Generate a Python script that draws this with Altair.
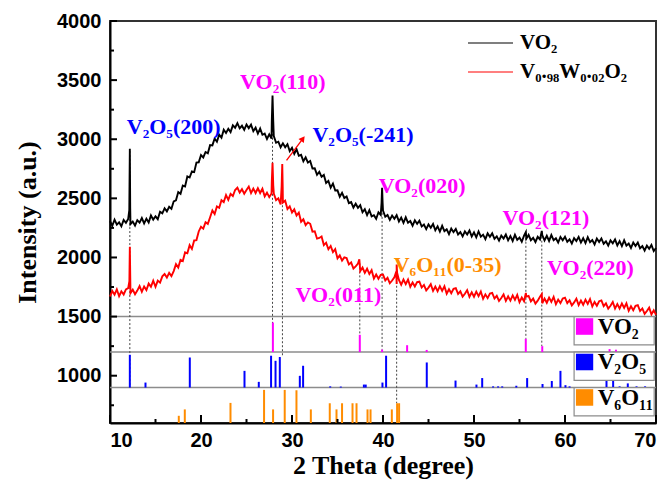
import altair as alt
import pandas as pd

# ---------------- data ----------------
grid_x = [round(10 + 0.25 * i, 2) for i in range(241)]

vo2_y = [
    2308, 2268, 2320, 2278, 2298, 2264, 2317, 2293, 2326, 2282, 2304, 2270,
    2315, 2294, 2333, 2288, 2328, 2296, 2355, 2320, 2348, 2324, 2387, 2373,
    2416, 2390, 2429, 2412, 2475, 2484, 2553, 2538, 2608, 2600, 2685, 2676,
    2728, 2722, 2802, 2805, 2866, 2846, 2892, 2881, 2950, 2948, 3006, 2979,
    3038, 3013, 3080, 3053, 3088, 3060, 3117, 3097, 3136, 3092, 3114, 3080,
    3125, 3094, 3123, 3068, 3098, 3048, 3090, 3038, 3048, 3002, 3042, 3005,
    3026, 2970, 2979, 2932, 2965, 2932, 2958, 2900, 2928, 2876, 2915, 2860,
    2868, 2814, 2847, 2803, 2816, 2752, 2754, 2700, 2725, 2682, 2698, 2630,
    2648, 2590, 2625, 2566, 2568, 2514, 2547, 2503, 2516, 2460, 2469, 2422,
    2455, 2420, 2443, 2382, 2408, 2358, 2400, 2348, 2358, 2327, 2382, 2360,
    2396, 2344, 2359, 2318, 2355, 2327, 2358, 2305, 2338, 2293, 2340, 2293,
    2308, 2268, 2314, 2284, 2311, 2262, 2279, 2240, 2280, 2252, 2283, 2230,
    2263, 2219, 2268, 2222, 2238, 2198, 2244, 2214, 2241, 2194, 2214, 2178,
    2220, 2194, 2228, 2178, 2213, 2170, 2220, 2176, 2193, 2155, 2204, 2175,
    2204, 2158, 2178, 2142, 2185, 2160, 2194, 2145, 2181, 2140, 2192, 2149,
    2168, 2133, 2184, 2159, 2191, 2146, 2166, 2131, 2175, 2153, 2190, 2144,
    2183, 2140, 2190, 2146, 2163, 2126, 2174, 2146, 2176, 2132, 2153, 2118,
    2163, 2139, 2174, 2126, 2163, 2122, 2172, 2129, 2148, 2111, 2160, 2131,
    2161, 2116, 2136, 2101, 2145, 2120, 2153, 2102, 2138, 2096, 2145, 2100,
    2118, 2080, 2127, 2097, 2126, 2078, 2096, 2059, 2100, 2073, 2106, 2054,
    2080,
]

vw_y = [
    1670, 1717, 1685, 1730, 1672, 1714, 1687, 1730, 1740, 1699, 1728, 1689,
    1720, 1758, 1710, 1755, 1725, 1779, 1752, 1803, 1752, 1804, 1787, 1840,
    1860, 1830, 1870, 1843, 1885, 1943, 1915, 1980, 1970, 2043, 2035, 2104,
    2072, 2144, 2147, 2220, 2260, 2244, 2298, 2284, 2340, 2397, 2367, 2431,
    2420, 2484, 2468, 2528, 2487, 2538, 2520, 2571, 2590, 2549, 2578, 2539,
    2570, 2600, 2545, 2583, 2545, 2585, 2545, 2582, 2517, 2548, 2510, 2541,
    2540, 2485, 2500, 2448, 2465, 2480, 2410, 2433, 2380, 2407, 2355, 2380,
    2302, 2323, 2274, 2296, 2285, 2219, 2222, 2159, 2165, 2178, 2105, 2125,
    2070, 2097, 2045, 2070, 1992, 2018, 1974, 2001, 1995, 1941, 1958, 1907,
    1925, 1948, 1885, 1915, 1870, 1905, 1860, 1892, 1822, 1856, 1820, 1853,
    1855, 1806, 1828, 1782, 1805, 1833, 1775, 1810, 1770, 1813, 1775, 1814,
    1752, 1788, 1754, 1791, 1795, 1746, 1768, 1722, 1745, 1774, 1717, 1754,
    1715, 1757, 1718, 1757, 1694, 1731, 1698, 1735, 1740, 1692, 1714, 1669,
    1693, 1724, 1668, 1705, 1668, 1711, 1673, 1712, 1650, 1688, 1656, 1694,
    1700, 1653, 1676, 1632, 1657, 1688, 1633, 1672, 1635, 1679, 1642, 1683,
    1622, 1661, 1630, 1668, 1675, 1629, 1652, 1609, 1635, 1667, 1613, 1653,
    1617, 1661, 1625, 1666, 1605, 1644, 1614, 1653, 1660, 1614, 1638, 1594,
    1620, 1652, 1597, 1636, 1600, 1643, 1607, 1648, 1586, 1624, 1592, 1630,
    1636, 1589, 1612, 1567, 1592, 1623, 1567, 1605, 1568, 1611, 1573, 1612,
    1550, 1587, 1554, 1591, 1596, 1547, 1569, 1523, 1547, 1576, 1519, 1554,
    1515,
]

vo2_peak_x = [12.12, 12.18, 12.22, 27.78, 27.86, 27.94, 39.84, 39.9, 39.96, 55.7, 57.45]
vo2_peak_y = [2400, 2920, 2420, 3150, 3370, 3150, 2460, 2590, 2460, 2215, 2225]
vw_peak_x = [12.13, 12.18, 12.23, 27.78, 27.86, 27.94, 28.86, 28.93, 28.98,
             37.4, 41.46, 41.5, 41.55, 55.7, 57.45]
vw_peak_y = [1800, 2090, 1810, 2640, 2800, 2610, 2600, 2790, 2590,
             1985, 1880, 1940, 1870, 1700, 1690]

series_names = ["VO\u2082", "V\u2080.\u2089\u2088W\u2080.\u2080\u2082O\u2082"]
series_colors = ["#000000", "#FF0000"]

# reference patterns (stick bars): positions and heights above panel base
vo2_ref_x = [27.9, 37.45, 39.9, 42.65, 44.8, 55.69, 57.5, 64.9, 65.6]
vo2_ref_h = [250, 146, 21, 58, 18, 112, 50, 25, 20]
v2o5_ref_x = [12.18, 13.9, 18.77, 24.78, 26.35, 27.7, 28.19, 28.66, 30.86, 31.22,
              34.2, 35.36, 37.9, 38.1, 39.94, 40.34, 44.81, 47.97, 50.27, 50.9,
              52.1, 52.65, 53.1, 54.65, 55.84, 57.53, 58.55, 59.5, 60.05, 60.5,
              64.56, 65.29, 66.0, 66.9, 67.86, 68.8]
v2o5_ref_h = [277, 42, 254, 141, 48, 269, 226, 258, 99, 184,
              10, 8, 25, 25, 42, 269, 212, 59, 25, 80,
              10, 10, 10, 15, 80, 30, 55, 141, 20, 10,
              60, 60, 10, 35, 10, 10]
v6o11_ref_x = [17.56, 18.22, 23.24, 26.93, 27.92, 29.2, 30.49, 32.07, 34.15, 34.89,
               35.5, 36.65, 37.09, 38.3, 38.63, 40.97, 41.55, 41.77]
v6o11_ref_h = [61, 115, 170, 280, 115, 280, 277, 115, 167, 115,
               167, 167, 167, 115, 115, 115, 167, 167]

panel_names = ["VO\u2082", "V\u2082O\u2085", "V\u2086O\u2081\u2081"]
panel_colors = ["#FF00FF", "#0000FF", "#FF8C00"]
panel_tops = [1500, 1200, 900]
panel_bases = [1200, 900, 600]

# dotted guide lines
guide_x = [12.18, 27.86, 28.95, 37.45, 39.9, 41.5, 55.7, 57.45]
guide_top = [2900, 3350, 2780, 1950, 2580, 1930, 2200, 2210]
guide_bottom = [900, 1200, 1160, 1346, 1220, 767, 1312, 1250]

# peak labels
label_text = ["V\u2082O\u2085(200)", "VO\u2082(110)", "V\u2082O\u2085(-241)", "VO\u2082(020)",
              "VO\u2082(121)", "VO\u2082(220)", "V\u2086O\u2081\u2081(0-35)", "VO\u2082(011)"]
label_x = [17.0, 29.0, 37.8, 44.3, 57.9, 62.8, 47.1, 35.1]
label_y = [3100, 3481, 3033, 2602, 2330, 1908, 1940, 1679]
label_color = ["#0000FF", "#FF00FF", "#0000FF", "#FF00FF",
               "#FF00FF", "#FF00FF", "#FF8C00", "#FF00FF"]

arrow_x = [29.4, 31.2]
arrow_y = [2822, 3005]

x_ticks_major = [10, 20, 30, 40, 50, 60, 70]
x_ticks_minor = [15, 25, 35, 45, 55, 65]
y_ticks_major = [1000, 1500, 2000, 2500, 3000, 3500, 4000]
y_ticks_minor = [750, 1250, 1750, 2250, 2750, 3250, 3750]

# ---------------- tables ----------------
rows = []
for name, ys_, px, py in [(series_names[0], vo2_y, vo2_peak_x, vo2_peak_y),
                          (series_names[1], vw_y, vw_peak_x, vw_peak_y)]:
    for x, y in zip(grid_x, ys_):
        rows.append({"x": x, "y": y, "series": name})
    for x, y in zip(px, py):
        rows.append({"x": x, "y": y, "series": name})
curves = pd.DataFrame(rows).sort_values(["series", "x"])

bar_rows = []
for xs_, hs, base, col in [(vo2_ref_x, vo2_ref_h, panel_bases[0], panel_colors[0]),
                           (v2o5_ref_x, v2o5_ref_h, panel_bases[1], panel_colors[1]),
                           (v6o11_ref_x, v6o11_ref_h, panel_bases[2], panel_colors[2])]:
    for x, h in zip(xs_, hs):
        bar_rows.append({"x": x, "y": base, "y2": base + h, "c": col})
bars_df = pd.DataFrame(bar_rows)

guides_df = pd.DataFrame({"x": guide_x, "y": guide_top, "y2": guide_bottom})
labels_df = pd.DataFrame({"t": label_text, "x": label_x, "y": label_y, "c": label_color})
hlines_df = pd.DataFrame({"y": panel_tops})

box_df = pd.DataFrame({
    "x": [61.0] * 3, "x2": [69.8] * 3,
    "y": [t - 240 for t in panel_tops], "y2": panel_tops,
})
sq_df = pd.DataFrame({
    "x": [61.2] * 3, "x2": [63.1] * 3,
    "y": [t - 154 for t in panel_tops], "y2": [t - 14 for t in panel_tops],
    "c": panel_colors,
})
ptext_df = pd.DataFrame({"x": [63.6] * 3, "y": [t - 85 for t in panel_tops], "t": panel_names})

arrow_df = pd.DataFrame({"x": arrow_x, "y": arrow_y})
arrow_head = pd.DataFrame({"x": [arrow_x[1]], "y": [arrow_y[1]]})

xs = alt.Scale(domain=[10, 70], nice=False, zero=False)
ys = alt.Scale(domain=[600, 4000], nice=False, zero=False)
W, H = 546, 402

x_axis = alt.Axis(values=x_ticks_major, tickSize=0, title="2 Theta (degree)", grid=False,
                  labelPadding=7, titlePadding=2, format="d")
y_axis = alt.Axis(values=y_ticks_major, tickSize=0, title="Intensity (a.u.)", grid=False,
                  labelPadding=9, titlePadding=16, format="d")

hlines = alt.Chart(hlines_df).mark_rule(color="#8c8c8c", strokeWidth=1.5).encode(
    y=alt.Y("y:Q", scale=ys, axis=y_axis),
)

guides = alt.Chart(guides_df).mark_rule(color="#444444", strokeWidth=1, strokeDash=[2, 2]).encode(
    x=alt.X("x:Q", scale=xs, axis=x_axis), y=alt.Y("y:Q", scale=ys), y2="y2:Q",
)

bars = alt.Chart(bars_df).mark_rule(strokeWidth=2).encode(
    x=alt.X("x:Q", scale=xs), y=alt.Y("y:Q", scale=ys), y2="y2:Q",
    color=alt.Color("c:N", scale=None),
)

boxes = alt.Chart(box_df).mark_rect(fill="white", stroke="#8c8c8c", strokeWidth=1.2).encode(
    x=alt.X("x:Q", scale=xs), x2="x2:Q", y=alt.Y("y:Q", scale=ys), y2="y2:Q",
)
squares = alt.Chart(sq_df).mark_rect().encode(
    x=alt.X("x:Q", scale=xs), x2="x2:Q", y=alt.Y("y:Q", scale=ys), y2="y2:Q",
    fill=alt.Fill("c:N", scale=None),
)
ptext = alt.Chart(ptext_df).mark_text(
    align="left", baseline="middle", font="Liberation Serif", fontWeight="bold", fontSize=23,
    color="black",
).encode(x=alt.X("x:Q", scale=xs), y=alt.Y("y:Q", scale=ys), text="t:N")

lines = alt.Chart(curves).mark_line(strokeWidth=1.9).encode(
    x=alt.X("x:Q", scale=xs),
    y=alt.Y("y:Q", scale=ys),
    color=alt.Color("series:N",
                    scale=alt.Scale(domain=series_names, range=series_colors),
                    sort=series_names,
                    legend=alt.Legend(title=None, orient="none", legendX=357, legendY=12,
                                      symbolType="stroke", symbolSize=2025,
                                      symbolStrokeWidth=1.2, labelFont="Liberation Serif",
                                      labelFontWeight="bold", labelFontSize=21,
                                      labelOffset=6, rowPadding=8, clipHeight=20)),
    order=alt.Order("x:Q"),
)

arrow = alt.Chart(arrow_df).mark_line(color="#FF0000", strokeWidth=1.3).encode(
    x=alt.X("x:Q", scale=xs), y=alt.Y("y:Q", scale=ys),
)
head = alt.Chart(arrow_head).mark_point(shape="triangle-up", filled=True, size=45, angle=37,
                                        color="#FF0000", opacity=1).encode(
    x=alt.X("x:Q", scale=xs), y=alt.Y("y:Q", scale=ys),
)

labels = alt.Chart(labels_df).mark_text(
    align="center", baseline="middle", font="Liberation Serif", fontWeight="bold", fontSize=22,
).encode(x=alt.X("x:Q", scale=xs), y=alt.Y("y:Q", scale=ys), text="t:N",
         color=alt.Color("c:N", scale=None))

xt_major = alt.Chart(pd.DataFrame({"x": x_ticks_major})).mark_rule(color="black", strokeWidth=2).encode(
    x=alt.X("x:Q", scale=xs), y=alt.value(H), y2=alt.value(H - 8))
xt_minor = alt.Chart(pd.DataFrame({"x": x_ticks_minor})).mark_rule(color="black", strokeWidth=2).encode(
    x=alt.X("x:Q", scale=xs), y=alt.value(H), y2=alt.value(H - 4))
yt_major = alt.Chart(pd.DataFrame({"y": y_ticks_major})).mark_rule(color="black", strokeWidth=2).encode(
    y=alt.Y("y:Q", scale=ys), x=alt.value(0), x2=alt.value(7))
yt_minor = alt.Chart(pd.DataFrame({"y": y_ticks_minor})).mark_rule(color="black", strokeWidth=2).encode(
    y=alt.Y("y:Q", scale=ys), x=alt.value(0), x2=alt.value(4))

chart = alt.layer(
    hlines, guides, bars, lines, boxes, squares, ptext, arrow, head, labels,
    xt_major, xt_minor, yt_major, yt_minor,
).properties(
    width=W, height=H,
    padding={"left": 102, "top": 13, "right": 4, "bottom": 57},
    autosize=alt.AutoSizeParams(type="none"),
).configure_view(
    stroke="#333333", strokeWidth=2,
).configure_axis(
    domainColor="black", domainWidth=2,
    labelFont="Liberation Sans", labelFontWeight="bold", labelFontSize=20, labelColor="black",
    titleFont="Liberation Serif", titleFontWeight="bold", titleFontSize=26, titleColor="black",
)

chart.save("out.html", embed_options={"renderer": "svg", "actions": False})
